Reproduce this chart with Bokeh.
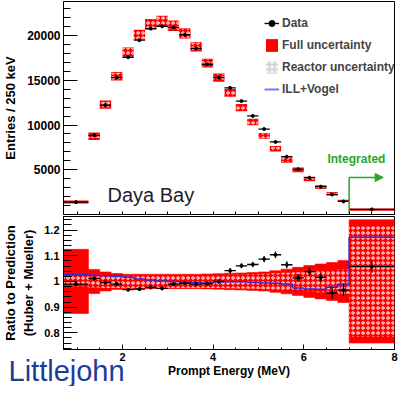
import numpy as np
from bokeh.plotting import figure
from bokeh.layouts import column
from bokeh.models import FixedTicker, Legend, LegendItem, Label, Arrow, NormalHead, Range1d, Title
from bokeh.embed import file_html
from bokeh.resources import INLINE

# ---------------- data ----------------
energy_edges = [0.7, 1.25, 1.5, 1.75, 2.0, 2.25, 2.5, 2.75, 3.0, 3.25, 3.5, 3.75, 4.0,
                4.25, 4.5, 4.75, 5.0, 5.25, 5.5, 5.75, 6.0, 6.25, 6.5, 6.75, 7.0, 8.0]
data_counts = [1380, 8850, 12230, 15290, 17570, 19480, 20770, 21030, 20880, 20100,
               18560, 16790, 15290, 14150, 12670, 11020, 9550, 8110, 6460, 5060,
               4110, 3110, 2230, 1460, 570]
data_ratio = [0.990, 1.012, 0.996, 0.990, 0.968, 0.970, 0.977, 0.973, 0.990, 0.993,
              0.990, 0.992, 1.000, 1.042, 1.061, 1.066, 1.087, 1.104, 1.065, 1.014,
              1.038, 1.016, 0.955, 0.966, 1.058]
ratio_err = [0.007, 0.007, 0.007, 0.007, 0.007, 0.007, 0.007, 0.007, 0.007, 0.007,
             0.007, 0.008, 0.009, 0.010, 0.010, 0.011, 0.012, 0.013, 0.014, 0.015,
             0.016, 0.018, 0.023, 0.023, 0.023]
ill_vogel_ratio = [1.026, 1.024, 1.022, 1.020, 1.016, 1.010, 1.006, 1.002, 1.000, 0.998,
                   0.996, 0.993, 0.998, 0.999, 0.999, 0.996, 0.994, 0.993, 0.990, 0.975,
                   0.971, 0.970, 0.977, 0.990, 1.172]
full_unc = [0.125, 0.047, 0.037, 0.031, 0.028, 0.028, 0.028, 0.028, 0.028, 0.028,
            0.028, 0.029, 0.030, 0.032, 0.033, 0.035, 0.037, 0.042, 0.048, 0.055,
            0.062, 0.068, 0.074, 0.082, 0.240]
reactor_unc = [0.020, 0.024, 0.025, 0.025, 0.025, 0.025, 0.025, 0.025, 0.025, 0.025,
               0.025, 0.025, 0.025, 0.026, 0.027, 0.028, 0.030, 0.032, 0.034, 0.036,
               0.039, 0.042, 0.045, 0.048, 0.215]
arrow_level = 4140      # height of the "Integrated" arrow (entries)
arrow_tip = 7.75        # MeV

FONT = "Liberation Sans"
RED = "#ff0000"
GREEN = "#2aa52a"
BLUE = "#2a2ae0"

lo = np.array(energy_edges[:-1])
hi = np.array(energy_edges[1:])
mid = (lo + hi) / 2
counts = np.array(data_counts, dtype=float)
ratio = np.array(data_ratio)
rerr = np.array(ratio_err)
full = np.array(full_unc)
reac = np.array(reactor_unc)
ill = np.array(ill_vogel_ratio)
pred = counts / ratio
cerr = counts * rerr / ratio
x_minor = [round(v, 2) for v in np.arange(1.0, 8.01, 0.5)]


def style_common(p):
    p.grid.visible = False
    p.outline_line_color = "black"
    p.outline_line_width = 1
    p.background_fill_color = "white"
    p.border_fill_color = "white"
    for ax in p.axis:
        ax.axis_line_color = "black"
        ax.major_tick_line_color = "black"
        ax.minor_tick_line_color = "black"
        ax.major_tick_out = 0
        ax.minor_tick_out = 0
        ax.major_label_text_font = FONT
        ax.major_label_text_font_style = "bold"
        ax.major_label_text_color = "black"
        ax.axis_label_text_font = FONT
        ax.axis_label_text_font_style = "bold"
        ax.axis_label_text_color = "black"


# ---------------- top panel ----------------
p1 = figure(width=402, height=215, x_range=Range1d(0.7, 8.0), y_range=Range1d(0, 23800),
            output_backend="svg", toolbar_location=None,
            min_border_left=55, min_border_right=8, min_border_top=1, min_border_bottom=1)
style_common(p1)
# unlabeled tick marks only: every tick as a "minor" tick
p1.xaxis.ticker = FixedTicker(ticks=[], minor_ticks=x_minor)
p1.xaxis.major_label_standoff = 0
p1.xaxis.minor_tick_in = 3
p1.yaxis.ticker = FixedTicker(ticks=[5000, 10000, 15000, 20000],
                              minor_ticks=list(range(1000, 23001, 1000)))
p1.yaxis.major_tick_in = 14
p1.yaxis.minor_tick_in = 7
p1.yaxis.major_label_text_font_size = "12px"
p1.yaxis.major_label_standoff = 3
p1.yaxis.axis_label = "Entries / 250 keV"
p1.yaxis.axis_label_text_font_size = "13px"
p1.yaxis.axis_label_standoff = 6

full_r = p1.quad(left=lo, right=hi, bottom=pred * (1 - full), top=pred * (1 + full),
                 fill_color=RED, line_color=None)
p1.quad(left=lo, right=hi, bottom=pred * (1 - reac), top=pred * (1 + reac),
        fill_alpha=0, line_color=None, hatch_pattern="ring", hatch_color="white",
        hatch_scale=5, hatch_weight=1)
data_h = p1.segment(x0=lo, y0=counts, x1=hi, y1=counts, line_color="black", line_width=1.3)
p1.segment(x0=mid, y0=counts - cerr, x1=mid, y1=counts + cerr, line_color="black", line_width=1.3)
data_pt = p1.scatter(mid, counts, size=3, marker="circle", color="black")

# legend-only renderers (hidden in the plot, drawn only as legend swatches)
reac_dummy = p1.quad(left=lo, right=hi, bottom=pred * (1 - reac), top=pred * (1 + reac),
                     fill_color="#d4d4d4", line_color=None, hatch_pattern="ring",
                     hatch_color="white", hatch_scale=5, hatch_weight=1, visible=False)
ill_dummy = p1.line(x=mid, y=pred, line_color="#7878f4", line_width=2, visible=False)

legend = Legend(items=[
    LegendItem(label="Data", renderers=[data_h, data_pt]),
    LegendItem(label="Full uncertainty", renderers=[full_r]),
    LegendItem(label="Reactor uncertainty", renderers=[reac_dummy]),
    LegendItem(label="ILL+Vogel", renderers=[ill_dummy]),
], location=(201, 117))
legend.label_text_font = FONT
legend.label_text_font_size = "12px"
legend.label_text_font_style = "bold"
legend.glyph_width = 15
legend.glyph_height = 16
legend.label_height = 16
legend.spacing = 6
legend.padding = 0
legend.margin = 0
legend.label_standoff = 3
legend.border_line_alpha = 0
legend.background_fill_alpha = 0
legend.inactive_fill_alpha = 0
legend.click_policy = "none"
p1.add_layout(legend)

# integrated arrow
integrated_edge = energy_edges[-2]
p1.segment(x0=[integrated_edge], y0=[0], x1=[integrated_edge], y1=[arrow_level],
           line_color=GREEN, line_width=1.5)
p1.add_layout(Arrow(end=NormalHead(size=8, fill_color=GREEN, line_color=GREEN),
                    x_start=integrated_edge, y_start=arrow_level, x_end=arrow_tip, y_end=arrow_level,
                    line_color=GREEN, line_width=1.5))
p1.add_layout(Label(x=7.16, y=6250, text="Integrated", text_align="center", text_baseline="middle",
                    text_font=FONT, text_font_style="bold", text_font_size="12px", text_color=GREEN))
p1.add_layout(Label(x=1.67, y=2150, text="Daya Bay", text_align="left", text_baseline="alphabetic",
                    text_font=FONT, text_font_size="20px", text_color="#1c1c30"))

# ---------------- bottom panel ----------------
p2 = figure(width=402, height=171, x_range=p1.x_range, y_range=Range1d(0.735, 1.253),
            output_backend="svg", toolbar_location=None,
            min_border_left=55, min_border_right=8, min_border_top=1, min_border_bottom=37)
style_common(p2)
p2.xaxis.ticker = FixedTicker(ticks=[2, 4, 6, 8], minor_ticks=x_minor)
p2.xaxis.major_tick_in = 5
p2.xaxis.minor_tick_in = 2
p2.xaxis.major_label_text_font_size = "11px"
p2.xaxis.major_label_standoff = 3
p2.xaxis.axis_label = "Prompt Energy (MeV)"
p2.xaxis.axis_label_text_font_size = "12px"
p2.xaxis.axis_label_standoff = 0
p2.yaxis.ticker = FixedTicker(ticks=[0.8, 0.9, 1.0, 1.1, 1.2],
                              minor_ticks=[round(v, 2) for v in np.arange(0.74, 1.25, 0.02)])
p2.yaxis.major_label_overrides = {1: "1"}
p2.yaxis.major_tick_in = 14
p2.yaxis.minor_tick_in = 8
p2.yaxis.major_label_text_font_size = "11px"
p2.yaxis.major_label_standoff = 4
p2.yaxis.axis_label = "Ratio to Prediction\n(Huber + Mueller)"
p2.yaxis.axis_label_text_font_size = "13px"
p2.yaxis.axis_label_standoff = 5

p2.quad(left=lo, right=hi, bottom=1 - full, top=1 + full,
        fill_color=RED, line_color=RED, line_width=0.6)
p2.quad(left=lo, right=hi, bottom=1 - reac, top=1 + reac, fill_alpha=0, line_color=None,
        hatch_pattern="ring", hatch_color="white", hatch_scale=5, hatch_weight=1)
# ILL+Vogel prediction as a step line (flat per bin + vertical joins)
p2.segment(x0=lo, y0=ill, x1=hi, y1=ill, line_color=BLUE, line_width=1.5)
p2.segment(x0=hi[:-1], y0=ill[:-1], x1=hi[:-1], y1=ill[1:], line_color=BLUE, line_width=1.5)
p2.segment(x0=lo, y0=ratio, x1=hi, y1=ratio, line_color="black", line_width=1.3)
p2.segment(x0=mid, y0=ratio - rerr, x1=mid, y1=ratio + rerr, line_color="black", line_width=1.3)
p2.scatter(mid, ratio, size=3, marker="circle", color="black")

# ---------------- transparent overlay strip carrying the author credit ----------------
p3 = figure(width=402, height=40, x_range=Range1d(0, 1), y_range=Range1d(0, 1),
            output_backend="svg", toolbar_location=None,
            x_axis_location=None, y_axis_location=None,
            min_border_left=55, min_border_right=8, min_border_top=0, min_border_bottom=0,
            margin=(-40, 0, 0, 0))
p3.grid.visible = False
p3.outline_line_color = None
p3.background_fill_alpha = 0
p3.border_fill_alpha = 0
p3.add_layout(Title(text="Littlejohn", align="left", offset=-55, standoff=0,
                    text_font=FONT, text_font_size="29px", text_font_style="normal",
                    text_color="#1b3d9a"), "below")

layout = column(p1, p2, p3)
open("out.html", "w").write(file_html(layout, INLINE))
